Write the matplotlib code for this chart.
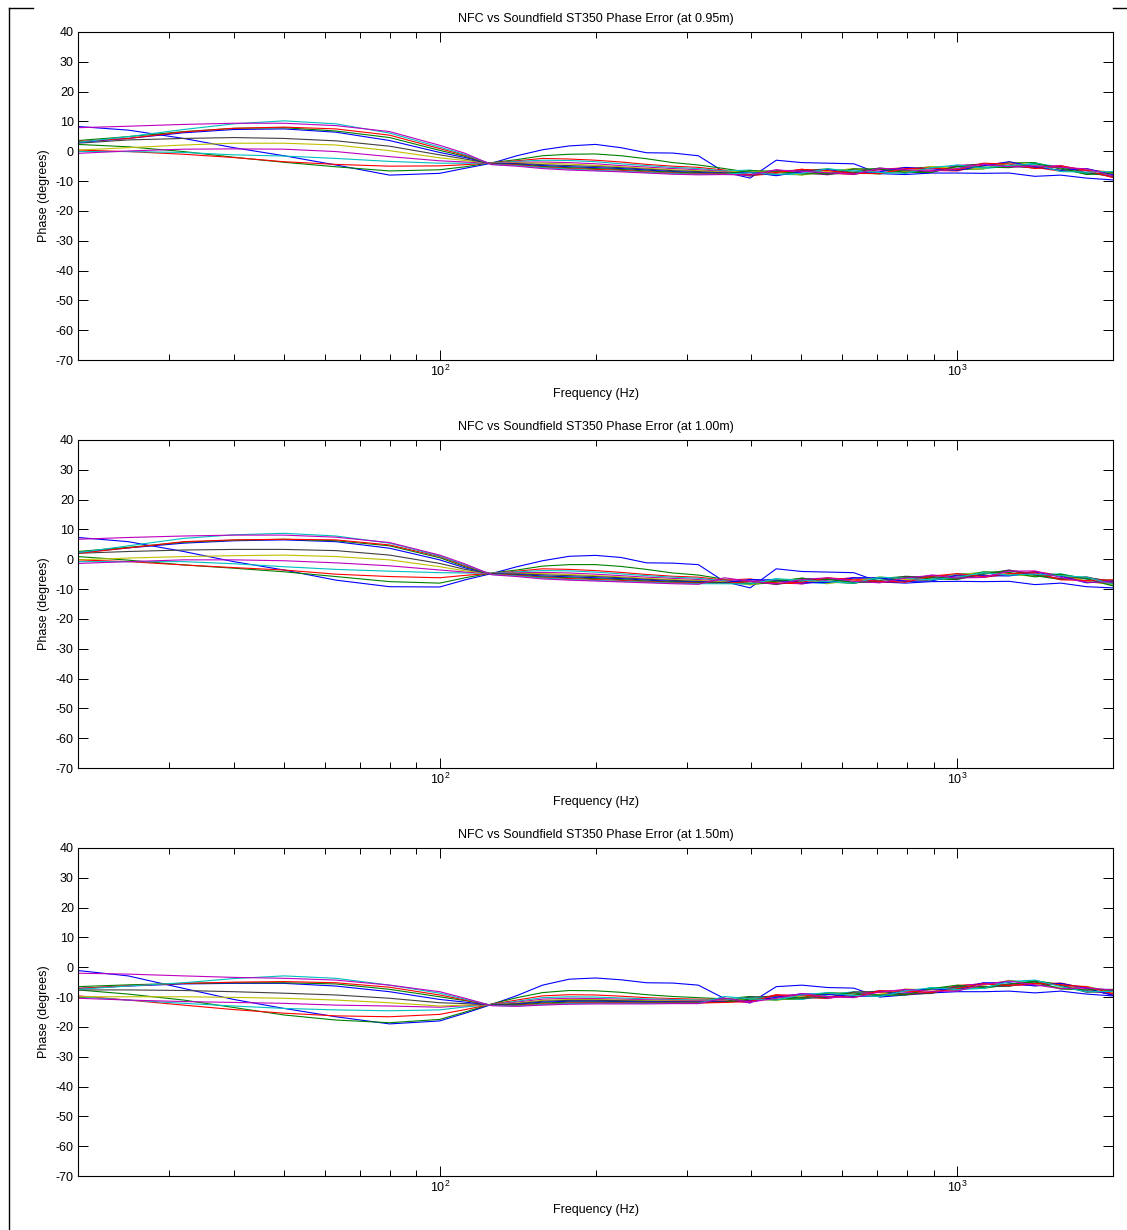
import matplotlib
matplotlib.use("Agg")
import matplotlib.pyplot as plt
from matplotlib.lines import Line2D
from matplotlib.ticker import LogLocator, NullFormatter, MultipleLocator

plt.rcParams['font.family'] = ['Liberation Sans', 'DejaVu Sans']
plt.rcParams['mathtext.fontset'] = 'custom'
plt.rcParams['mathtext.rm'] = 'Liberation Sans'
plt.rcParams['axes.unicode_minus'] = False

# frequency grid (Hz) shared by every curve
freq = [20, 25, 32, 40, 50, 63, 80, 100, 112, 126, 141, 158, 178, 200, 224, 251, 282, 316,
        355, 398, 447, 501, 562, 631, 708, 794, 891, 1000, 1122, 1259, 1413, 1585, 1778, 1995]

# MATLAB's old default colour order
line_colors = [(0, 0, 1), (0, 0.5, 0), (1, 0, 0), (0, 0.75, 0.75),
               (0.75, 0, 0.75), (0.75, 0.75, 0), (0.25, 0.25, 0.25)]

distances = ['0.95m', '1.00m', '1.50m']

# phase error (degrees), one row per curve, at 0.95 m
phase_095 = [
    [8.3, 7.1, 4.3, 1.2, -1.5, -4.6, -8.0, -7.4, -5.7, -4.0, -1.5, 0.5, 1.8, 2.3, 1.2, -0.5, -0.6, -1.5, -7.0, -9.0, -3.0, -3.8, -4.0, -4.2, -7.5, -7.8, -7.3, -7.3, -7.4, -7.3, -8.4, -8.0, -9.0, -9.6],
    [2.3, 1.5, -0.1, -2.0, -3.7, -5.2, -6.6, -6.2, -5.2, -3.8, -2.8, -1.5, -1.0, -0.9, -1.5, -2.5, -3.8, -4.6, -5.8, -7.1, -8.0, -6.5, -5.9, -7.1, -7.6, -6.0, -5.2, -6.1, -5.9, -3.9, -3.8, -6.0, -7.6, -7.5],
    [0.4, -0.1, -1.0, -2.1, -3.5, -4.4, -5.0, -4.9, -4.5, -3.9, -3.2, -2.4, -2.6, -3.0, -3.6, -4.4, -5.0, -5.4, -6.3, -8.2, -7.4, -6.0, -7.3, -7.8, -6.1, -5.5, -6.4, -6.6, -4.6, -3.7, -5.4, -6.7, -6.3, -7.0],
    [-0.1, -0.1, -0.4, -1.2, -1.6, -2.4, -3.4, -4.0, -4.0, -4.0, -3.4, -3.0, -3.1, -3.5, -4.2, -4.8, -5.4, -5.8, -6.6, -6.3, -7.7, -7.9, -6.2, -6.2, -7.4, -7.0, -5.2, -5.3, -5.9, -4.9, -4.0, -5.3, -7.5, -8.1],
    [-0.7, 0.1, 0.7, 0.8, 0.7, -0.1, -1.8, -3.2, -3.6, -4.1, -3.7, -3.6, -3.8, -4.2, -4.8, -5.3, -5.8, -6.2, -6.8, -7.7, -6.2, -7.2, -7.9, -6.0, -6.3, -7.3, -6.6, -4.7, -4.4, -5.3, -5.1, -4.8, -6.6, -8.7],
    [0.4, 1.2, 2.1, 2.7, 2.7, 2.1, 0.2, -2.2, -3.1, -4.1, -3.9, -4.0, -4.3, -4.7, -5.2, -5.7, -6.2, -6.5, -7.0, -6.7, -6.9, -8.0, -6.7, -5.8, -7.2, -6.8, -5.1, -5.7, -5.9, -3.6, -4.7, -6.5, -6.0, -7.4],
    [2.7, 3.8, 4.3, 4.6, 4.3, 3.5, 1.7, -1.2, -2.6, -4.2, -4.1, -4.5, -4.8, -5.1, -5.5, -6.0, -6.5, -6.8, -7.2, -8.3, -6.5, -6.4, -7.8, -7.0, -5.6, -6.5, -7.0, -5.0, -4.2, -5.0, -5.6, -5.1, -7.2, -8.4],
    [3.0, 4.3, 6.2, 7.3, 7.5, 6.4, 3.6, -0.4, -2.1, -4.2, -4.3, -4.8, -5.2, -5.5, -5.8, -6.3, -6.8, -7.1, -7.4, -7.0, -8.2, -6.8, -6.1, -7.6, -6.9, -5.4, -5.9, -6.4, -4.9, -3.5, -5.2, -6.4, -5.8, -7.8],
    [3.6, 4.9, 6.6, 7.7, 7.9, 6.8, 4.6, 0.3, -1.7, -4.3, -4.5, -5.1, -5.5, -5.8, -6.1, -6.6, -7.0, -7.3, -7.5, -6.5, -6.7, -7.6, -7.5, -5.9, -5.9, -7.1, -7.1, -5.1, -5.3, -5.5, -4.2, -5.6, -7.8, -7.2],
    [3.3, 4.3, 6.5, 7.7, 8.1, 7.5, 5.4, 0.9, -1.4, -4.3, -4.6, -5.3, -5.8, -6.1, -6.4, -6.9, -7.3, -7.5, -7.6, -7.8, -7.1, -6.1, -6.5, -7.4, -7.5, -5.8, -5.6, -6.2, -4.0, -4.3, -5.8, -4.9, -6.4, -8.8],
    [3.0, 4.9, 7.3, 9.2, 10.2, 9.2, 6.1, 1.4, -1.1, -4.4, -4.8, -5.5, -6.0, -6.4, -6.7, -7.1, -7.5, -7.7, -7.7, -7.2, -7.8, -7.4, -5.9, -6.6, -7.1, -7.4, -5.5, -4.6, -5.6, -4.7, -4.4, -6.8, -7.0, -6.8],
    [7.9, 8.4, 9.0, 9.4, 9.4, 8.6, 6.6, 2.0, -0.7, -4.5, -5.0, -5.8, -6.3, -6.6, -6.9, -7.3, -7.7, -7.9, -7.8, -8.0, -6.3, -6.7, -7.2, -7.7, -5.7, -6.1, -6.7, -5.8, -4.3, -5.2, -4.9, -5.4, -5.9, -8.2],
]

# at 1.00 m
phase_100 = [
    [7.3, 5.9, 2.6, -0.8, -3.6, -7.0, -9.2, -9.3, -6.9, -4.8, -2.5, -0.5, 1.0, 1.3, 0.6, -1.2, -1.3, -1.8, -7.5, -9.6, -3.2, -4.1, -4.3, -4.5, -7.6, -8.0, -7.5, -7.4, -7.5, -7.4, -8.5, -8.0, -9.2, -9.6],
    [0.9, -0.3, -1.9, -3.0, -4.2, -5.8, -7.5, -8.0, -6.2, -4.6, -3.6, -2.3, -1.8, -1.8, -2.4, -3.4, -4.6, -5.3, -6.7, -8.5, -7.7, -6.3, -7.6, -8.1, -6.4, -5.8, -6.6, -6.8, -4.8, -3.8, -5.5, -6.8, -6.4, -7.1],
    [-0.2, -0.8, -1.9, -2.8, -3.6, -5.0, -5.8, -6.2, -5.4, -4.7, -4.0, -3.2, -3.4, -3.8, -4.4, -5.1, -5.7, -6.0, -7.0, -6.6, -8.0, -8.2, -6.5, -6.5, -7.7, -7.3, -5.4, -5.5, -6.1, -5.0, -4.1, -5.4, -7.6, -8.2],
    [-0.8, -0.8, -0.8, -1.5, -2.5, -3.4, -4.0, -4.5, -4.6, -4.7, -4.2, -3.8, -3.9, -4.3, -4.9, -5.5, -6.0, -6.4, -7.2, -8.0, -6.5, -7.5, -8.2, -6.3, -6.6, -7.6, -6.8, -4.9, -4.6, -5.4, -5.2, -4.9, -6.7, -8.8],
    [-1.4, -0.8, -0.2, -0.2, -0.5, -1.2, -2.2, -3.6, -4.3, -4.8, -4.5, -4.4, -4.6, -5.0, -5.5, -6.0, -6.4, -6.8, -7.4, -7.0, -7.2, -8.3, -7.0, -6.1, -7.5, -7.1, -5.3, -5.9, -6.1, -3.7, -4.8, -6.6, -6.1, -7.5],
    [-0.2, 0.4, 0.9, 1.2, 1.4, 0.9, -0.2, -2.5, -3.9, -4.8, -4.7, -4.8, -5.1, -5.5, -5.9, -6.4, -6.8, -7.1, -7.6, -8.6, -6.8, -6.7, -8.1, -7.3, -5.9, -6.8, -7.2, -5.2, -4.4, -5.1, -5.7, -5.2, -7.3, -8.5],
    [2.0, 2.6, 3.1, 3.3, 3.3, 2.9, 1.4, -1.4, -3.4, -4.9, -4.9, -5.2, -5.5, -5.8, -6.2, -6.7, -7.1, -7.4, -7.8, -7.3, -8.5, -7.1, -6.4, -7.9, -7.2, -5.7, -6.1, -6.6, -5.1, -3.6, -5.3, -6.5, -5.9, -7.9],
    [2.2, 3.8, 5.4, 6.2, 6.5, 5.9, 3.7, -0.2, -2.9, -4.9, -5.1, -5.6, -5.9, -6.2, -6.5, -7.0, -7.4, -7.6, -7.9, -6.8, -7.0, -7.9, -7.8, -6.2, -6.2, -7.4, -7.3, -5.3, -5.5, -5.6, -4.3, -5.7, -7.9, -7.3],
    [2.6, 4.0, 5.7, 6.4, 6.7, 6.2, 4.5, 0.5, -2.5, -5.0, -5.3, -5.9, -6.2, -6.5, -6.8, -7.3, -7.6, -7.8, -8.0, -8.1, -7.4, -6.4, -6.8, -7.7, -7.8, -6.1, -5.8, -6.4, -4.2, -4.4, -5.9, -5.0, -6.5, -8.9],
    [2.0, 3.8, 5.9, 6.5, 6.7, 6.5, 4.8, 0.9, -2.2, -5.0, -5.4, -6.1, -6.5, -6.8, -7.1, -7.5, -7.8, -8.0, -8.1, -7.5, -8.1, -7.7, -6.2, -6.9, -7.4, -7.7, -5.7, -4.8, -5.8, -4.8, -4.5, -6.9, -7.1, -6.9],
    [2.2, 4.5, 7.0, 8.2, 8.7, 7.8, 5.4, 1.1, -1.9, -5.1, -5.6, -6.3, -6.8, -7.1, -7.4, -7.7, -8.0, -8.2, -8.2, -8.3, -6.6, -7.0, -7.5, -8.0, -6.0, -6.4, -6.9, -6.0, -4.5, -5.3, -5.0, -5.5, -6.0, -8.3],
    [6.7, 7.3, 7.8, 8.1, 8.1, 7.4, 5.6, 1.4, -1.6, -5.2, -5.8, -6.6, -7.0, -7.3, -7.6, -7.9, -8.2, -8.4, -6.2, -7.4, -8.3, -6.8, -6.2, -7.4, -7.9, -6.3, -5.4, -6.3, -6.1, -4.0, -3.9, -6.1, -7.7, -7.6],
]

# at 1.50 m
phase_150 = [
    [-1.1, -2.9, -7.1, -10.8, -13.8, -16.6, -19.0, -18.0, -15.4, -12.5, -9.5, -6.0, -4.0, -3.6, -4.2, -5.2, -5.3, -6.0, -10.5, -12.0, -6.5, -6.0, -6.8, -7.0, -10.0, -9.3, -8.6, -8.2, -8.2, -8.0, -8.6, -8.0, -9.0, -9.6],
    [-7.6, -9.0, -11.0, -13.5, -16.0, -17.7, -18.6, -17.5, -15.0, -12.3, -10.2, -8.5, -7.8, -7.9, -8.4, -9.2, -9.8, -10.2, -10.6, -9.8, -10.7, -10.7, -8.8, -8.6, -9.6, -8.9, -6.9, -6.7, -7.1, -5.8, -4.5, -5.8, -8.1, -8.7],
    [-9.6, -11.0, -12.7, -14.2, -15.4, -16.3, -16.6, -15.8, -14.2, -12.4, -11.0, -9.6, -9.2, -9.3, -9.7, -10.2, -10.5, -10.7, -10.8, -11.2, -9.2, -10.0, -10.5, -8.4, -8.5, -9.2, -8.3, -6.1, -5.6, -6.2, -5.6, -5.3, -7.2, -9.3],
    [-9.9, -11.0, -12.1, -13.0, -13.8, -14.3, -14.6, -14.3, -13.3, -12.5, -11.4, -10.2, -9.9, -10.0, -10.3, -10.6, -10.8, -11.0, -11.0, -10.2, -9.9, -10.8, -9.3, -8.2, -9.4, -8.7, -6.8, -7.1, -7.1, -4.5, -5.2, -7.0, -6.6, -8.0],
    [-10.4, -11.0, -11.5, -11.8, -12.1, -12.7, -13.0, -13.4, -12.9, -12.5, -11.7, -10.7, -10.4, -10.5, -10.7, -10.9, -11.1, -11.2, -11.2, -11.8, -9.5, -9.2, -10.4, -9.4, -7.8, -8.4, -8.7, -6.4, -5.4, -5.9, -6.1, -5.6, -7.8, -9.0],
    [-9.9, -9.9, -9.9, -10.1, -10.4, -11.0, -11.9, -13.0, -12.7, -12.6, -12.0, -11.1, -10.8, -10.8, -11.0, -11.2, -11.3, -11.4, -11.4, -10.5, -11.2, -9.6, -8.7, -10.0, -9.1, -7.3, -7.6, -7.8, -6.1, -4.4, -5.7, -6.9, -6.4, -8.4],
    [-7.6, -7.6, -7.8, -8.2, -8.7, -9.3, -10.4, -11.9, -12.2, -12.6, -12.2, -11.4, -11.1, -11.1, -11.2, -11.4, -11.5, -11.6, -11.5, -10.0, -9.7, -10.4, -10.1, -8.3, -8.1, -9.0, -8.8, -6.5, -6.5, -6.4, -4.7, -6.1, -8.4, -7.8],
    [-7.1, -6.3, -5.6, -5.4, -5.4, -6.3, -8.2, -10.8, -11.7, -12.7, -12.4, -11.7, -11.4, -11.4, -11.5, -11.6, -11.7, -11.7, -11.6, -11.3, -10.1, -8.9, -9.1, -9.8, -9.7, -7.7, -7.3, -7.6, -5.2, -5.2, -6.3, -5.4, -7.0, -9.4],
    [-6.5, -5.9, -5.4, -5.2, -5.2, -5.6, -7.4, -9.9, -11.2, -12.7, -12.6, -12.0, -11.7, -11.7, -11.7, -11.8, -11.9, -11.9, -11.7, -10.7, -10.8, -10.2, -8.5, -9.0, -9.3, -9.3, -7.2, -6.0, -6.8, -5.6, -4.9, -7.3, -7.6, -7.4],
    [-7.1, -6.2, -5.4, -5.0, -4.8, -5.2, -6.7, -9.3, -11.0, -12.8, -12.8, -12.3, -12.0, -11.9, -11.9, -12.0, -12.0, -12.0, -11.8, -11.5, -9.3, -9.5, -9.8, -10.1, -7.9, -8.0, -8.4, -7.2, -5.5, -6.1, -5.4, -5.9, -6.5, -8.8],
    [-7.4, -6.3, -5.2, -3.8, -2.9, -3.7, -6.0, -8.7, -10.7, -12.8, -13.0, -12.5, -12.2, -12.1, -12.1, -12.1, -12.1, -12.1, -9.8, -10.6, -11.0, -9.3, -8.5, -9.5, -9.8, -7.9, -6.9, -7.5, -7.1, -4.8, -4.3, -6.5, -8.2, -8.1],
    [-2.0, -2.3, -2.9, -3.4, -3.7, -4.3, -6.0, -8.2, -10.4, -12.9, -13.1, -12.7, -12.4, -12.3, -12.3, -12.3, -12.2, -12.2, -10.3, -11.7, -10.4, -8.8, -9.9, -10.2, -8.3, -7.4, -8.1, -8.0, -5.8, -4.6, -5.9, -7.2, -6.9, -7.6],
]


def plot_panel(ax, rows, dist):
    for i, row in enumerate(rows):
        assert len(row) == len(freq), (dist, i, len(row))
        ax.semilogx(freq, row, color=line_colors[i % len(line_colors)], lw=0.8)
    ax.set_xlim(20, 2000)
    ax.set_ylim(-70, 40)
    ax.yaxis.set_major_locator(MultipleLocator(10))
    ax.xaxis.set_major_locator(LogLocator(base=10))
    ax.xaxis.set_minor_locator(LogLocator(base=10, subs=range(2, 10)))
    ax.xaxis.set_minor_formatter(NullFormatter())
    ax.tick_params(which='both', direction='in', top=True, right=True,
                   labelsize=9, width=0.7, pad=3)
    ax.tick_params(which='major', length=7)
    ax.tick_params(which='minor', length=4)
    for s in ax.spines.values():
        s.set_linewidth(0.8)
    ax.set_title(f'NFC vs Soundfield ST350 Phase Error (at {dist})', fontsize=9, pad=7)
    ax.set_xlabel('Frequency (Hz)', fontsize=9, labelpad=6)
    ax.set_ylabel('Phase (degrees)', fontsize=9, labelpad=4)


fig = plt.figure(figsize=(11.27, 12.30), dpi=100)
bottoms = [0.7073, 0.3756, 0.0439]
for b, rows, dist in zip(bottoms, [phase_095, phase_100, phase_150], distances):
    ax = fig.add_axes([0.0692, b, 0.9184, 0.2667])
    plot_panel(ax, rows, dist)

# window frame edges visible in the original screenshot
W, H = 1127, 1230
fig.add_artist(Line2D([9 / W, 9 / W], [0, 1 - 8 / H], color='k', lw=1, transform=fig.transFigure))
fig.add_artist(Line2D([9 / W, 33 / W], [1 - 8 / H, 1 - 8 / H], color='k', lw=1, transform=fig.transFigure))
fig.add_artist(Line2D([1113 / W, 1 - 0.5 / W], [1 - 8 / H, 1 - 8 / H], color='k', lw=1, transform=fig.transFigure))

fig.savefig('out.png', dpi=100)
